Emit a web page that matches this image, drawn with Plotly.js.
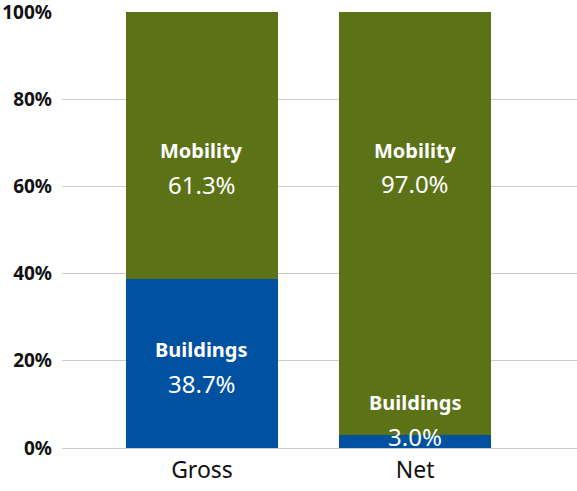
<!DOCTYPE html>
<html>
<head>
<meta charset="utf-8">
<script src="https://cdn.plot.ly/plotly-3.0.1.min.js"></script>
<style>html,body{margin:0;padding:0;background:#fff;}#chart{width:577px;height:491px;}</style>
</head>
<body>
<div id="chart"></div>
<script>
const categories = ["Gross", "Net"];
const buildings = [38.7, 3.0];
const mobility = [61.3, 97.0];
const seriesNames = ["Buildings", "Mobility"];
const yTickVals = [0, 20, 40, 60, 80, 100];
const yTickText = ["0%", "20%", "40%", "60%", "80%", "100%"];

const BLUE = "#0052a0";
const OLIVE = "#5c7216";
const FONT = "Noto Sans, Open Sans, sans-serif";

const traces = [
  { type: "bar", x: categories, y: buildings, name: seriesNames[0], marker: { color: BLUE }, width: 0.714, hoverinfo: "none" },
  { type: "bar", x: categories, y: mobility, name: seriesNames[1], marker: { color: OLIVE }, width: 0.714, hoverinfo: "none" }
];

// label anchor values (in % units) for each series per category
const nameY = { Buildings: [22.7, 10.5], Mobility: [68.3, 68.3] };
const valY = { Buildings: [14.9, 2.7], Mobility: [60.4, 60.6] };

const annotations = [];
const seriesVals = { Buildings: buildings, Mobility: mobility };
seriesNames.forEach(s => {
  categories.forEach((c, i) => {
    annotations.push({ x: c, y: nameY[s][i], xref: "x", yref: "y", text: "<b>" + s + "</b>", showarrow: false,
      font: { family: FONT, size: 20, color: "#ffffff" } });
    annotations.push({ x: c, y: valY[s][i], xref: "x", yref: "y", text: seriesVals[s][i].toFixed(1) + "%", showarrow: false,
      font: { family: FONT, size: 24, color: "#ffffff" } });
  });
});

const layout = {
  width: 577, height: 491,
  margin: { l: 62, r: 0, t: 12, b: 43, pad: 0 },
  barmode: "stack",
  showlegend: false,
  paper_bgcolor: "#ffffff",
  plot_bgcolor: "#ffffff",
  font: { family: FONT, color: "#111111" },
  xaxis: {
    range: [-0.657, 1.76],
    showgrid: false, zeroline: false, showline: false,
    ticks: "", ticklabelstandoff: 6,
    tickfont: { family: FONT, size: 23, color: "#111111" },
    fixedrange: true
  },
  yaxis: {
    range: [0, 100],
    tickvals: yTickVals, ticktext: yTickText,
    showgrid: true, gridcolor: "#cccccc", gridwidth: 1,
    zeroline: true, zerolinecolor: "#cccccc", zerolinewidth: 1,
    showline: false, ticks: "", ticklabelstandoff: 9,
    ticklabeloverflow: "allow",
    tickfont: { family: FONT, size: 19, color: "#111111", weight: "bold" },
    fixedrange: true
  },
  annotations: annotations
};

Plotly.newPlot("chart", traces, layout, { displayModeBar: false, staticPlot: true });
</script>
</body>
</html>
